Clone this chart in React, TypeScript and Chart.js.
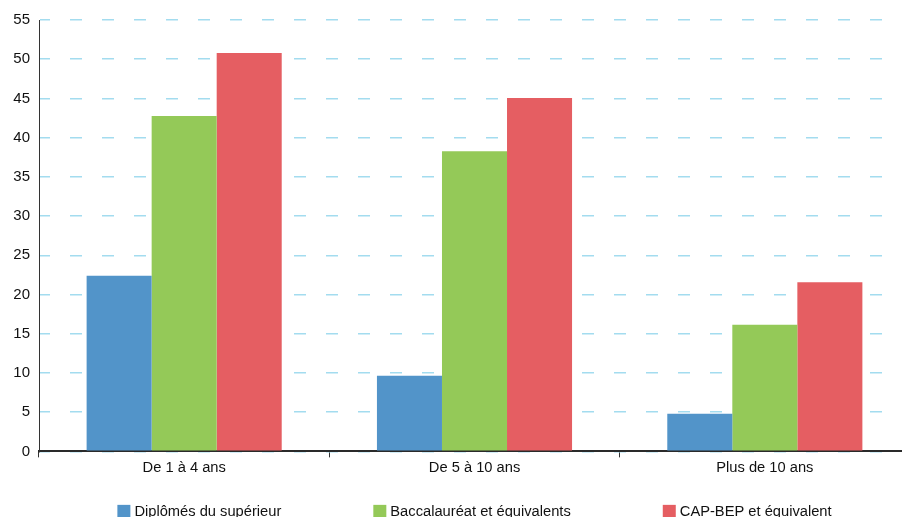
import React, { useEffect, useRef } from "react";
import { Chart, registerables } from "chart.js";

Chart.register(...registerables);

const categories = ["De 1 à 4 ans", "De 5 à 10 ans", "Plus de 10 ans"];
const seriesLabels = ["Diplômés du supérieur", "Baccalauréat et équivalents", "CAP-BEP et équivalent"];
const superieur = [22.4, 9.65, 4.8];
const baccalaureat = [42.75, 38.25, 16.15];
const capBep = [50.8, 45.05, 21.55];
const seriesColors = ["#5294c9", "#94c958", "#e55e62"];
const yTickStep = 5;
const yMax = 55;

const FONT_FAMILY = "'Liberation Sans', Arial, sans-serif";
const FONT_SIZE = 14.7;
const Y_FONT_SIZE = 15;

const legendPlugin = {
  id: "customLegend",
  afterDraw(chart: any) {
    const ctx = chart.ctx;
    const { left, right, bottom } = chart.chartArea;
    ctx.save();
    ctx.font = `${FONT_SIZE}px ${FONT_FAMILY}`;
    const box = 13;
    const textGap = 4;
    const gap = 92;
    const items = chart.data.datasets.map((ds: any) => ({
      text: ds.label,
      color: ds.backgroundColor,
      w: ctx.measureText(ds.label).width,
    }));
    const total = items.reduce((s: number, it: any) => s + box + textGap + it.w, 0) + gap * (items.length - 1);
    let x = (left + right) / 2 - total / 2;
    const cy = bottom + 60;
    ctx.textBaseline = "middle";
    ctx.textAlign = "left";
    for (const it of items) {
      ctx.fillStyle = it.color;
      ctx.fillRect(x, cy - box / 2, box, box);
      ctx.fillStyle = "#111";
      ctx.fillText(it.text, x + box + textGap, cy + 1);
      x += box + textGap + it.w + gap;
    }
    ctx.restore();
  },
};

export default function App() {
  const ref = useRef<HTMLCanvasElement | null>(null);
  useEffect(() => {
    if (!ref.current) return;
    const values = [superieur, baccalaureat, capBep];
    const chart = new Chart(ref.current, {
      type: "bar",
      data: {
        labels: categories,
        datasets: seriesLabels.map((label, i) => ({
          label,
          data: values[i],
          backgroundColor: seriesColors[i],
          borderWidth: 0,
          categoryPercentage: 0.672,
          barPercentage: 1,
        })),
      },
      plugins: [legendPlugin],
      options: {
        animation: false,
        responsive: false,
        devicePixelRatio: 1,
        layout: { padding: { top: 20, right: 0, bottom: 51, left: 0 } },
        plugins: {
          legend: { display: false },
          tooltip: { enabled: false },
        },
        scales: {
          x: {
            grid: {
              offset: true,
              drawOnChartArea: false,
              drawTicks: true,
              tickLength: 6,
              color: "#333",
              lineWidth: 1,
            },
            border: { display: true, color: "#2a2a2a", width: 2 },
            ticks: {
              color: "#111",
              padding: 2,
              font: { family: FONT_FAMILY, size: FONT_SIZE },
              maxRotation: 0,
            },
          },
          y: {
            min: 0,
            max: yMax,
            afterFit: (scale: any) => {
              scale.width = 39;
            },
            ticks: {
              stepSize: yTickStep,
              padding: 9,
              color: "#111",
              font: { family: FONT_FAMILY, size: Y_FONT_SIZE },
            },
            grid: {
              drawTicks: false,
              color: "#a3dcef",
              lineWidth: 1.5,
            },
            border: { display: true, color: "#333", width: 1, dash: [12, 20], dashOffset: 2 },
          },
        },
      },
    } as any);
    return () => chart.destroy();
  }, []);
  return (
    <div style={{ position: "absolute", left: 0, top: 0, width: 902, height: 517, overflow: "hidden", background: "#fff" }}>
      <canvas ref={ref} width={910} height={530} style={{ width: 910, height: 530, display: "block" }} />
    </div>
  );
}
